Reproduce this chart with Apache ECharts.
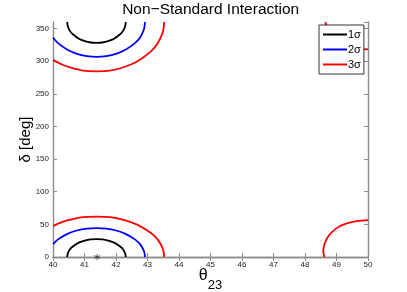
<!DOCTYPE html>
<html><head><meta charset="utf-8">
<script src="https://cdn.jsdelivr.net/npm/echarts@6/dist/echarts.min.js"></script>
<style>html,body{margin:0;padding:0;background:#fff}#c{width:407px;height:292px}</style>
</head><body><div id="c"></div>
<script>
// tick labels
const xTicks = [40,41,42,43,44,45,46,47,48,49,50];
const yTicks = [0,50,100,150,200,250,300,350];
// contour points [theta23, delta]
const sigma1Lower = [[40.45,0],[40.47,5.5],[40.54,12],[40.64,16.5],[40.82,22],[41.01,25.2],[41.19,26.9],[41.38,27.5],[41.57,26.9],[41.75,25.2],[41.94,22],[42.12,16.5],[42.22,12],[42.29,5.5],[42.31,0]];
const sigma1Upper = [[40.45,360],[40.47,353.6],[40.54,346],[40.64,340.8],[40.82,334.4],[41.01,330.7],[41.19,328.6],[41.38,328],[41.57,328.6],[41.75,330.7],[41.94,334.4],[42.12,340.8],[42.22,346],[42.29,353.6],[42.31,360]];
const sigma2Lower = [[40,19.5],[40.15,26.6],[40.46,35.4],[40.76,40.6],[41.07,43.4],[41.38,44.3],[41.69,43.4],[42.0,40.6],[42.30,35.4],[42.61,26.6],[42.77,19.3],[42.89,8.8],[42.92,0]];
const sigma2Upper = [[40,336.3],[40.15,328],[40.46,317.4],[40.76,311.1],[41.07,307.8],[41.38,306.7],[41.69,307.8],[42.0,311.1],[42.30,317.4],[42.61,328],[42.77,336.6],[42.89,349.4],[42.92,360]];
const sigma3Lower = [[40,47.5],[40.3,53.8],[40.52,56.9],[40.95,61.2],[41.38,62],[41.81,61.2],[42.24,56.9],[42.67,49.6],[43.10,37.2],[43.32,27],[43.49,12.3],[43.53,0]];
const sigma3Upper = [[40,302],[40.3,294.5],[40.52,290.7],[40.95,285.6],[41.38,284.4],[41.81,285.6],[42.24,290.7],[42.67,299.5],[43.10,314.6],[43.32,327],[43.49,345],[43.53,360]];
const sigma3RightLower = [[48.62,0],[48.58,8],[48.6,16],[48.66,25],[48.76,33],[48.9,40],[49.1,47],[49.35,52],[49.65,55],[50,56.5]];
const sigma3RightUpper = [[48.65,360],[48.7,350],[48.8,340],[49.0,330],[49.3,323],[49.6,319.5],[50,318]];
const bestFit = [[41.4,0]];
const seriesNames = ['1σ','2σ','3σ'];
const seriesColors = ['#000000','#0000ff','#ff0000'];

const chart = echarts.init(document.getElementById('c'));
const FONT = 'Liberation Sans, Arial, Helvetica, sans-serif';
function curve(name, color, data) {
  return {type:'line', name, data, smooth:0.3, symbol:'none', clip:true,
    lineStyle:{color, width:1.8}, itemStyle:{color}, z:2};
}
const axisCommon = {
  axisLine:{show:true, lineStyle:{color:'#8c8c8c', width:1.4}},
  axisTick:{show:true, inside:true, length:4, lineStyle:{color:'#8c8c8c', width:1}},
  splitLine:{show:false}
};
chart.setOption({
  animation:false,
  backgroundColor:'#ffffff',
  graphic:[{type:'text', left:null, x:210.7, y:2, style:{text:'Non\u2212Standard Interaction', align:'center', verticalAlign:'top',
    font:'15.5px ' + FONT, fill:'#000'}}],
  grid:{left:53, right:39, top:22, bottom:35, containLabel:false, outerBoundsMode:'none'},
  legend:{data:seriesNames, left:319, top:25, orient:'vertical', icon:'rect', itemWidth:24, itemHeight:2, itemGap:2,
    padding:[3,3,3,4], backgroundColor:'#fff', borderColor:'#000', borderWidth:0.8,
    textStyle:{fontFamily:FONT, fontSize:11, lineHeight:13, color:'#000', padding:[0,0,0,-4]}, z:10},
  xAxis:[
    Object.assign({type:'value', min:40, max:50, interval:1, position:'bottom',
      name:'{t|θ}{s|23}', nameLocation:'middle', nameGap:11, nameMoveOverlap:false,
      nameTextStyle:{rich:{t:{fontFamily:FONT, fontSize:16, color:'#000', verticalAlign:'top'},
        s:{fontFamily:FONT, fontSize:13, color:'#000', verticalAlign:'top', padding:[11,0,0,0]}}},
      axisLabel:{show:true, fontFamily:FONT, fontSize:8, color:'#222', margin:4, formatter:v=>xTicks.includes(v)?String(v):''}}, axisCommon),
    Object.assign({type:'value', min:40, max:50, interval:1, position:'top', axisLabel:{show:false}}, axisCommon)
  ],
  yAxis:[
    Object.assign({type:'value', min:0, max:360, interval:50, position:'left',
      name:'δ [deg]', nameLocation:'middle', nameGap:20, nameMoveOverlap:false,
      nameTextStyle:{fontFamily:FONT, fontSize:15, color:'#000'},
      axisLabel:{show:true, showMaxLabel:false, fontFamily:FONT, fontSize:8, color:'#222', margin:4,
        formatter:v=>yTicks.includes(v)?String(v):''}}, axisCommon),
    Object.assign({type:'value', min:0, max:360, interval:50, position:'right', axisLabel:{show:false}}, axisCommon)
  ],
  series:[
    curve(seriesNames[0], seriesColors[0], sigma1Lower),
    curve(seriesNames[0], seriesColors[0], sigma1Upper),
    curve(seriesNames[1], seriesColors[1], sigma2Lower),
    curve(seriesNames[1], seriesColors[1], sigma2Upper),
    curve(seriesNames[2], seriesColors[2], sigma3Lower),
    curve(seriesNames[2], seriesColors[2], sigma3Upper),
    curve(seriesNames[2], seriesColors[2], sigma3RightLower),
    curve(seriesNames[2], seriesColors[2], sigma3RightUpper),
    {type:'scatter', name:'best', data:bestFit, clip:false, symbol:'path://M0,-5L0,5M-4.33,-2.5L4.33,2.5M-4.33,2.5L4.33,-2.5',
      symbolSize:6, itemStyle:{color:'none', borderColor:'#333', borderWidth:1}, z:5}
  ]
});
</script></body></html>
